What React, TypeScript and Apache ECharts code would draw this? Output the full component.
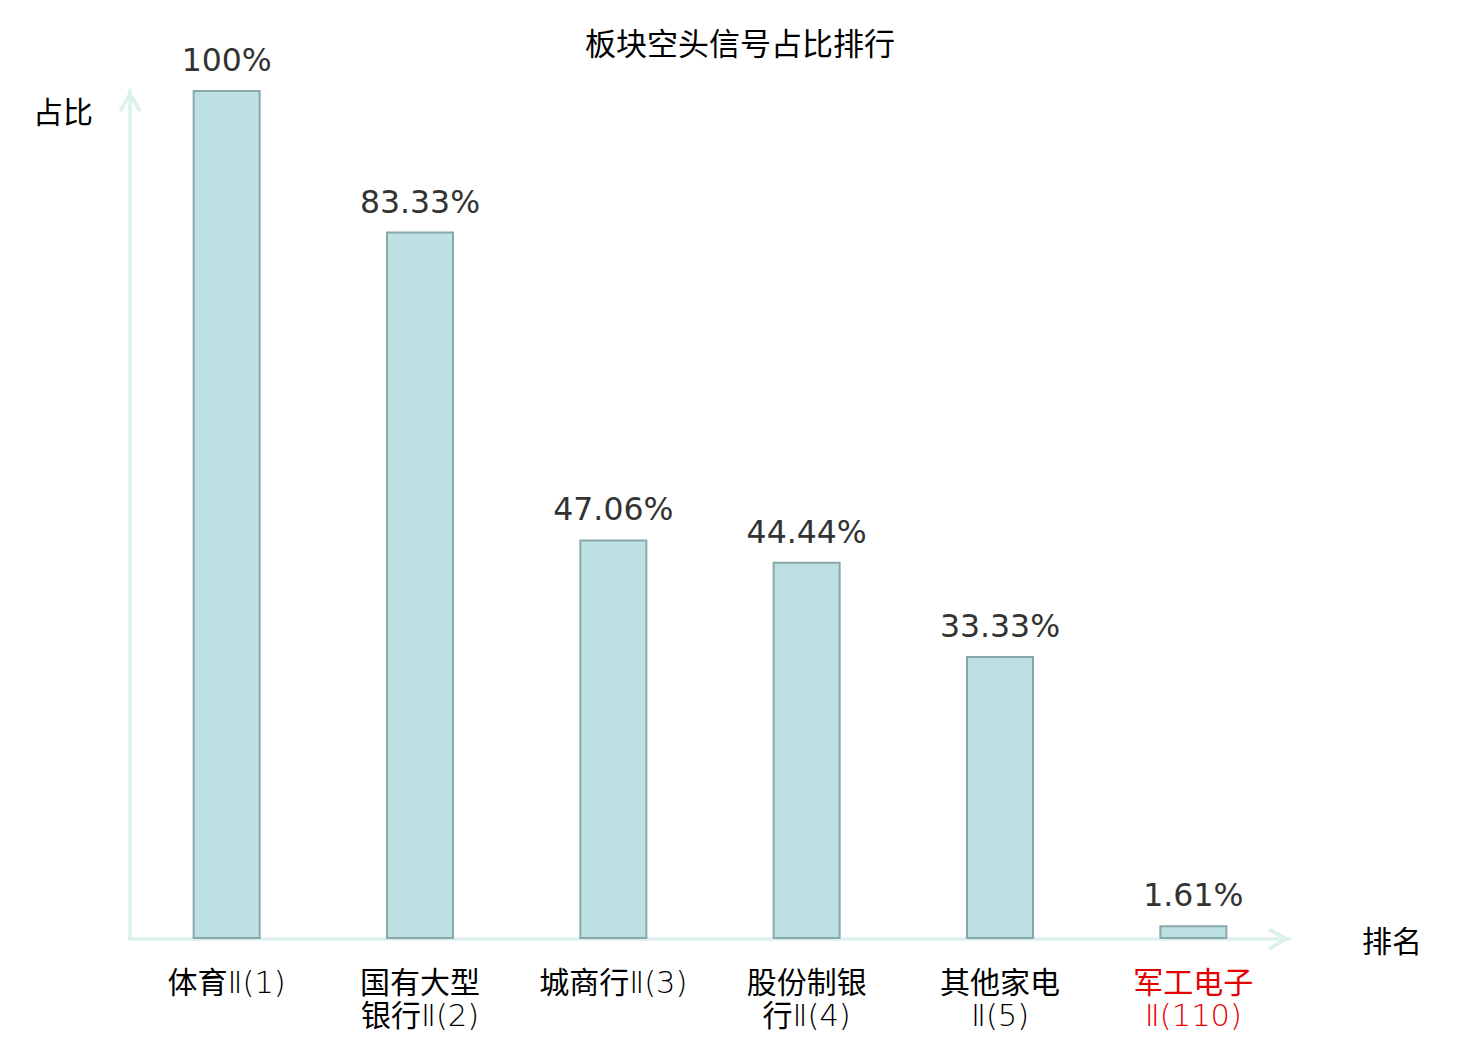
import React, { useEffect, useRef } from 'react';
import * as echarts from 'echarts';

const titleText = '板块空头信号占比排行';
const yAxisName = '占比';
const xAxisName = '排名';
const categories = ['体育Ⅱ(1)', '国有大型银行Ⅱ(2)', '城商行Ⅱ(3)', '股份制银行Ⅱ(4)', '其他家电Ⅱ(5)', '军工电子Ⅱ(110)'];
const values = [100, 83.33, 47.06, 44.44, 33.33, 1.61];
const highlighted = ['军工电子Ⅱ(110)'];

const CJK = '"Noto Sans CJK SC", "Noto Sans", sans-serif';
const LATIN = '"DejaVu Sans", sans-serif';
const MIXED = '"DejaVu Sans", "Noto Sans CJK SC", sans-serif';
const ARROW = 'path://M0,20 L11.5,0 L23,20 L19.6,22 L11.5,7.8 L3.4,22 Z';
const BLACK = '#000000';
const RED = '#e60000';

function wrapLabel(v: string): string {
  if (v.length >= 8) return v.slice(0, 4) + '\n' + v.slice(4);
  return v;
}

function richLabel(v: string): string {
  const sfx = highlighted.includes(v) ? 'R' : '';
  return wrapLabel(v)
    .split('\n')
    .map((line) => {
      const i = line.indexOf('Ⅱ');
      const cjk = i < 0 ? line : line.slice(0, i);
      const lat = i < 0 ? '' : line.slice(i);
      let s = '';
      if (cjk) s += `{c${sfx}|${cjk}}`;
      if (lat) s += `{l${sfx}|${lat}}`;
      return s;
    })
    .join('\n');
}

export default function App() {
  const ref = useRef<HTMLDivElement>(null);
  useEffect(() => {
    if (!ref.current) return;
    const chart = echarts.init(ref.current, null, { renderer: 'svg' });
    const axisLine = {
      show: true,
      symbol: ['none', ARROW],
      symbolSize: [23, 22],
      symbolOffset: [0, -11],
      lineStyle: { color: '#dcf1ee', width: 3.5 },
    };
    const cStyle = { fontFamily: MIXED, fontWeight: 'normal', fontSize: 30, lineHeight: 33 };
    const lStyle = { fontFamily: MIXED, fontWeight: 200, fontSize: 30.5, lineHeight: 33 };
    chart.setOption({
      animation: false,
      backgroundColor: '#ffffff',
      title: {
        text: titleText,
        left: 'center',
        top: 21,
        textStyle: { fontFamily: CJK, fontSize: 31, fontWeight: 'normal', color: '#000' },
      },
      grid: { left: 130, right: 190, top: 90, bottom: 101 },
      xAxis: {
        type: 'category',
        data: categories,
        name: xAxisName,
        nameLocation: 'end',
        nameGap: 72,
        nameTextStyle: { fontFamily: CJK, fontSize: 30, color: '#000' },
        axisLine,
        axisTick: { show: false },
        axisLabel: {
          interval: 0,
          margin: 27,
          fontFamily: MIXED,
          fontSize: 30,
          lineHeight: 33,
          formatter: (v: string) => richLabel(v),
          rich: {
            c: { ...cStyle, color: BLACK },
            l: { ...lStyle, color: BLACK },
            cR: { ...cStyle, color: RED },
            lR: { ...lStyle, color: RED },
          },
        },
      },
      yAxis: {
        type: 'value',
        min: 0,
        max: 100,
        name: yAxisName,
        nameLocation: 'end',
        nameGap: -5,
        nameTextStyle: {
          fontFamily: CJK,
          fontSize: 30,
          color: '#000',
          align: 'right',
          verticalAlign: 'top',
          padding: [0, 37, 0, 0],
        },
        axisLine,
        axisTick: { show: false },
        axisLabel: { show: false },
        splitLine: { show: false },
      },
      series: [
        {
          type: 'bar',
          data: values,
          barWidth: 68,
          itemStyle: { color: '#bde0e3', borderColor: '#8aa8aa', borderWidth: 2 },
          label: {
            show: true,
            position: 'top',
            distance: 14,
            formatter: (p: any) => p.value + '%',
            fontFamily: LATIN,
            fontSize: 31.5,
            color: '#333',
          },
        },
      ],
    });
    return () => chart.dispose();
  }, []);
  return (
    <div
      ref={ref}
      style={{ position: 'absolute', left: 0, top: 0, width: 1480, height: 1040 }}
    />
  );
}
